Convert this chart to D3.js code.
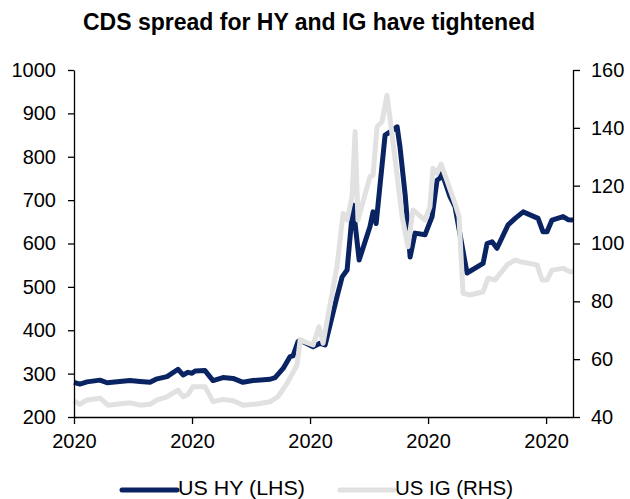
<!DOCTYPE html>
<html><head><meta charset="utf-8">
<script src="https://cdn.jsdelivr.net/npm/d3@7/dist/d3.min.js"></script>
<style>body{margin:0;background:#fff}svg{display:block;font-family:"Liberation Sans",Arial,sans-serif}</style>
</head><body>
<script>
const title = "CDS spread for HY and IG have tightened";
const seriesNames = ["US HY (LHS)", "US IG (RHS)"];
const xTickValues = [0, 50, 100, 150, 200];
const xTickLabels = ["2020", "2020", "2020", "2020", "2020"];
const leftTicks = [200, 300, 400, 500, 600, 700, 800, 900, 1000];
const rightTicks = [40, 60, 80, 100, 120, 140, 160];

const hyDays = [0,2.5,5.5,11,14,23.7,28,32.2,35.2,39.4,44.1,46.2,48.3,50,51.3,55.5,58.9,63.1,67.4,71.6,75.8,83.1,85.2,88.6,91.5,92.8,94.9,95.8,101.3,104.2,106.4,111.4,113.6,115.7,118.2,120.8,125.4,126.7,128,131.8,135.2,136.9,138.1,140.3,142.4,144.5,148.7,151.7,153.8,155.1,155.9,159.3,161.4,166.5,173.3,175,177.1,179.2,183.9,186.9,190.3,196.6,198.7,200.4,202.5,207.2,209.3,211.4];
const hyValues = [280,276,281,285,279,284,282,280,288,293,310,297,303,301,306,307,284,291,289,280,284,287,291,312,339,341,374,377,362,370,366,477,523,539,689,562,639,673,646,850,862,869,823,712,569,624,620,662,746,751,762,708,685,532,554,600,604,589,643,658,673,658,627,627,654,662,655,654];

const igDays = [0,2.5,5.5,11,14.4,23.7,28,32.2,35.2,39.4,44.1,46.2,48.3,50.4,55.5,58.9,63.1,67.4,71.6,77.5,83.1,86.4,90.3,94.5,95.8,101.3,103.8,105.5,111.4,114,115.7,117.8,119.1,120.3,125.4,126.7,128.4,130.5,132.6,134.7,139,141.5,143.6,148.7,150.8,152.1,153.8,155.5,161.4,163.1,164.8,167.8,173.3,175.4,178.4,183.5,186.9,189,196.2,198.3,200.4,202.5,207.2,210.2,211.4];
const igValues = [45.5,44.4,45.9,46.5,44.1,44.9,44.1,44.4,45.9,47.0,49.3,47.0,47.8,50.5,50.5,45.3,46.1,45.6,44.1,44.5,45.3,47.0,51.7,58.0,66.6,64.9,71.2,65.5,92.0,110.4,108.1,116.2,138.7,108.1,123.1,123.7,140.4,142.1,151.3,138.1,109.3,98.9,111.6,108.1,112.7,126.0,124.3,127.5,113.9,109.3,82.8,82.2,83.3,88.0,87.4,92.6,94.3,93.7,92.6,87.4,87.4,90.8,91.4,90.2,90.2];

const W = 630, H = 499;
const m = {left: 74, right: 573, top: 70, bottom: 417};
const hyColor = "#0a2463", igColor = "#e1e1e1";

const svg = d3.select("body").append("svg").attr("width", W).attr("height", H);

const x = d3.scaleLinear().domain([0, 211.4]).range([m.left, m.right]);
const yL = d3.scaleLinear().domain([200, 1000]).range([m.bottom, m.top]);
const yR = d3.scaleLinear().domain([40, 160]).range([m.bottom, m.top]);

svg.append("text").attr("x", 309).attr("y", 30).attr("text-anchor", "middle")
  .attr("font-size", 23).attr("font-weight", "bold").attr("fill", "#000").text(title);

const hyData = hyDays.map((d, i) => [d, hyValues[i]]);
const igData = igDays.map((d, i) => [d, igValues[i]]);

svg.append("path").datum(hyData)
  .attr("d", d3.line().x(d => x(d[0])).y(d => yL(d[1])))
  .attr("fill", "none").attr("stroke", hyColor).attr("stroke-width", 5)
  .attr("stroke-linejoin", "round");
svg.append("path").datum(igData)
  .attr("d", d3.line().x(d => x(d[0])).y(d => yR(d[1])))
  .attr("fill", "none").attr("stroke", igColor).attr("stroke-width", 5)
  .attr("stroke-linejoin", "round");

function styleAxis(g) {
  g.selectAll("path, line").attr("stroke", "#000").attr("stroke-width", 1.3);
  g.selectAll("text").attr("font-size", 20).attr("fill", "#000")
    .attr("font-family", "'Liberation Sans', Arial, sans-serif");
}

svg.append("g").attr("transform", `translate(${m.left},0)`)
  .call(d3.axisLeft(yL).tickValues(leftTicks).tickFormat(d3.format("d")).tickSize(6).tickPadding(12).tickSizeOuter(0))
  .call(styleAxis);
svg.append("g").attr("transform", `translate(${m.right},0)`)
  .call(d3.axisRight(yR).tickValues(rightTicks).tickFormat(d3.format("d")).tickSize(7).tickPadding(11).tickSizeOuter(0))
  .call(styleAxis);
svg.append("g").attr("transform", `translate(0,${m.bottom})`)
  .call(d3.axisBottom(x).tickValues(xTickValues).tickFormat((d, i) => xTickLabels[i]).tickSize(7).tickPadding(10).tickSizeOuter(0))
  .call(styleAxis);

const leg = [
  {name: seriesNames[0], color: hyColor, x1: 122, x2: 177},
  {name: seriesNames[1], color: igColor, x1: 340, x2: 394}
];
leg.forEach(l => {
  svg.append("line").attr("x1", l.x1).attr("x2", l.x2).attr("y1", 490).attr("y2", 490)
    .attr("stroke", l.color).attr("stroke-width", 5).attr("stroke-linecap", "round");
  svg.append("text").attr("x", l.x2 + 1).attr("y", 495).attr("font-size", 20)
    .attr("textLength", l === leg[0] ? 127 : 118).attr("lengthAdjust", "spacingAndGlyphs")
    .attr("fill", "#000").text(l.name);
});
</script>
</body></html>
